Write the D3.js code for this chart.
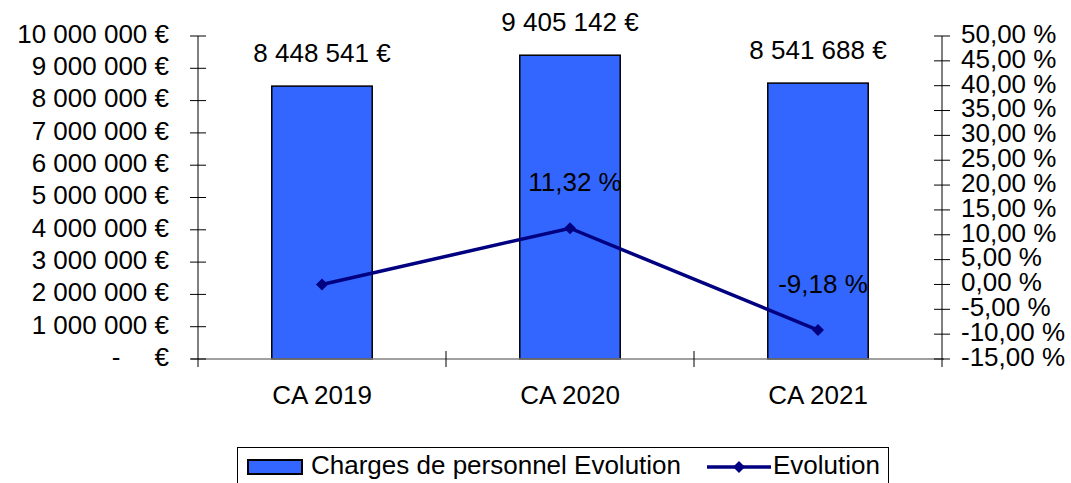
<!DOCTYPE html>
<html><head><meta charset="utf-8">
<script src="https://cdn.jsdelivr.net/npm/d3@7"></script>
<style>body{margin:0;background:#fff}svg{display:block}text{font-family:"Liberation Sans",Arial,sans-serif;fill:#000}</style>
</head><body><svg id="c" width="1071" height="483"></svg>
<script>
const categories = ["CA 2019", "CA 2020", "CA 2021"];
const charges = [8448541, 9405142, 8541688];
const evolution = [0, 11.32, -9.18];
const evolutionLabels = ["", "11,32 %", "-9,18 %"];
const chargeLabels = ["8 448 541 €", "9 405 142 €", "8 541 688 €"];
const leftTicks = [0,1e6,2e6,3e6,4e6,5e6,6e6,7e6,8e6,9e6,1e7];
const rightTicks = [-15,-10,-5,0,5,10,15,20,25,30,35,40,45,50];
const legendLabels = ["Charges de personnel Evolution", "Evolution"];

const svg = d3.select("#c");
const L = 198, R = 942, T = 36, B = 359;
const x = d3.scaleBand().domain(categories).range([L, R]).paddingInner(0.595).paddingOuter(0.2975);
const y = d3.scaleLinear().domain([0, 1e7]).range([B, T]);
const y2 = d3.scaleLinear().domain([-15, 50]).range([B, T]);
const fs = 26;

// bars
svg.selectAll("rect.bar").data(charges).join("rect").attr("class","bar")
  .attr("x",(d,i)=>x(categories[i])).attr("width",x.bandwidth())
  .attr("y",d=>y(d)).attr("height",d=>B-y(d))
  .attr("fill","#3366FF").attr("stroke","#000").attr("stroke-width",1.5);

// x axis line
svg.append("line").attr("x1",L-7).attr("x2",R+2).attr("y1",B).attr("y2",B).attr("stroke","#808080").attr("stroke-width",1.5);
const bounds = [1,2].map(i=>L + i*x.step());
svg.selectAll("line.xt").data(bounds).join("line").attr("class","xt")
  .attr("x1",d=>d).attr("x2",d=>d).attr("y1",B-8).attr("y2",B+8).attr("stroke","#000").attr("stroke-width",1);
svg.selectAll("text.xl").data(categories).join("text").attr("class","xl")
  .attr("x",d=>x(d)+x.bandwidth()/2).attr("y",397).attr("text-anchor","middle").attr("dominant-baseline","middle")
  .attr("font-size",fs).text(d=>d);

// left axis
svg.append("line").attr("x1",L).attr("x2",L).attr("y1",T).attr("y2",B+8).attr("stroke","#000").attr("stroke-width",1);
svg.selectAll("line.lt").data(leftTicks).join("line").attr("class","lt")
  .attr("x1",L-8).attr("x2",L+8).attr("y1",d=>y(d)).attr("y2",d=>y(d)).attr("stroke","#000").attr("stroke-width",1);
const fmtE = d3.formatLocale({decimal:",",thousands:"\u00a0",grouping:[3],currency:["","\u00a0€"]});
svg.selectAll("text.ll").data(leftTicks).join("text").attr("class","ll")
  .attr("x",169).attr("y",d=>y(d)).attr("text-anchor","end").attr("dominant-baseline","middle")
  .attr("font-size",fs).text(d=> d===0 ? "€" : fmtE.format(",d")(d).replace(/\u00a0/g," ")+" €");
svg.append("text").attr("x",116).attr("y",y(0)).attr("text-anchor","middle").attr("dominant-baseline","middle").attr("font-size",fs).text("-");

// right axis
svg.append("line").attr("x1",R).attr("x2",R).attr("y1",T).attr("y2",B+8).attr("stroke","#000").attr("stroke-width",1);
svg.selectAll("line.rt").data(rightTicks).join("line").attr("class","rt")
  .attr("x1",R-8).attr("x2",R+8).attr("y1",d=>y2(d)).attr("y2",d=>y2(d)).attr("stroke","#000").attr("stroke-width",1);
svg.selectAll("text.rl").data(rightTicks).join("text").attr("class","rl")
  .attr("x",961).attr("y",d=>y2(d)).attr("text-anchor","start").attr("dominant-baseline","middle")
  .attr("font-size",fs).text(d=>d3.format(".2f")(d).replace(".",",").replace("−","-")+" %");

// bar labels
svg.selectAll("text.bl").data(charges).join("text").attr("class","bl")
  .attr("x",(d,i)=>x(categories[i])+x.bandwidth()/2).attr("y",d=>y(d)-31)
  .attr("text-anchor","middle").attr("dominant-baseline","middle").attr("font-size",fs).text((d,i)=>chargeLabels[i]);

// line
const cx = i => x(categories[i]) + x.bandwidth()/2;
const line = d3.line().x((d,i)=>cx(i)).y(d=>y2(d));
svg.append("path").datum(evolution).attr("d",line).attr("fill","none").attr("stroke","#000080").attr("stroke-width",3.5);
const diamond = d3.symbol().type(d3.symbolSquare).size(72);
svg.selectAll("path.mk").data(evolution).join("path").attr("class","mk")
  .attr("transform",(d,i)=>`translate(${cx(i)},${y2(d)}) rotate(45)`).attr("d",diamond).attr("fill","#000080");
svg.selectAll("text.el").data(evolution).join("text").attr("class","el")
  .attr("x",(d,i)=>cx(i)+5).attr("y",d=>y2(d)-44)
  .attr("text-anchor","middle").attr("dominant-baseline","middle").attr("font-size",fs).text((d,i)=>evolutionLabels[i]);

// legend
svg.append("rect").attr("x",237.5).attr("y",447.5).attr("width",651).attr("height",50).attr("fill","#fff").attr("stroke","#000").attr("stroke-width",1);
svg.append("rect").attr("x",248).attr("y",460).attr("width",54).attr("height",14).attr("fill","#3366FF").attr("stroke","#000").attr("stroke-width",2);
svg.append("text").attr("x",311).attr("y",467).attr("dominant-baseline","middle").attr("font-size",fs).text(legendLabels[0]);
svg.append("line").attr("x1",707).attr("x2",771).attr("y1",467).attr("y2",467).attr("stroke","#000080").attr("stroke-width",3.5);
svg.append("path").attr("transform","translate(739,467) rotate(45)").attr("d",diamond).attr("fill","#000080");
svg.append("text").attr("x",773).attr("y",467).attr("dominant-baseline","middle").attr("font-size",fs).text(legendLabels[1]);
</script></body></html>
